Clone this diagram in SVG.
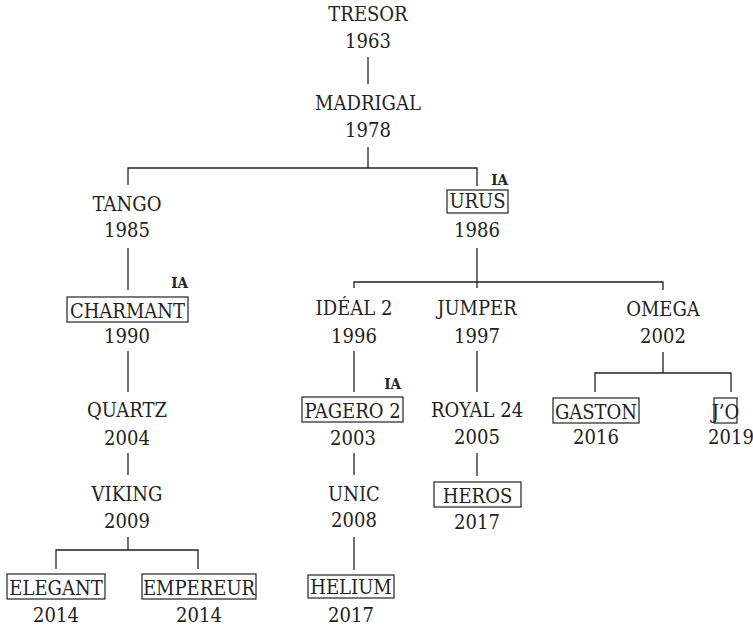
<svg xmlns="http://www.w3.org/2000/svg" width="753" height="626" viewBox="0 0 753 626">
<style>
text{font-family:"DejaVu Serif Condensed","DejaVu Serif",serif;font-size:20px;fill:#222;text-anchor:middle}
.ia{font-size:15px;font-weight:bold;text-anchor:end}
.box{fill:none;stroke:#222;stroke-width:1.2}
.c path{fill:none;stroke:#222;stroke-width:1.3}
</style>
<rect width="753" height="626" fill="#fff"/>
<g class="c" id="connectors">
<path d="M368 57V84"/>
<path d="M368 147V168M128 185V168H477V186"/>
<path d="M128 248V290"/>
<path d="M477 248V288M354 288V282H663V290"/>
<path d="M128 351V392"/>
<path d="M354 351V392"/>
<path d="M477 351V392"/>
<path d="M663 352V373M595 392V373H731V392"/>
<path d="M128 453V475"/>
<path d="M354 453V475"/>
<path d="M477 453V476"/>
<path d="M128 537V550M56 569V550H198V569"/>
<path d="M354 537V570"/>
</g>
<g id="n-tresor"><text x="368" y="21">TRESOR</text><text x="368" y="48">1963</text></g>
<g id="n-madrigal"><text x="368" y="110">MADRIGAL</text><text x="368" y="137">1978</text></g>
<g id="n-tango"><text x="127" y="211">TANGO</text><text x="127" y="237">1985</text></g>
<g id="n-urus"><text class="ia" x="508" y="185">IA</text><rect class="box" x="447" y="190" width="61" height="23"/><text x="477.5" y="208">URUS</text><text x="477" y="237">1986</text></g>
<g id="n-charmant"><text class="ia" x="188" y="288">IA</text><rect class="box" x="67" y="297" width="121" height="25"/><text x="127.5" y="318">CHARMANT</text><text x="127" y="343">1990</text></g>
<g id="n-ideal2"><text x="354" y="315">IDÉAL 2</text><text x="354" y="343">1996</text></g>
<g id="n-jumper"><text x="477" y="315">JUMPER</text><text x="477" y="343">1997</text></g>
<g id="n-omega"><text x="663" y="316">OMEGA</text><text x="663" y="343">2002</text></g>
<g id="n-quartz"><text x="127" y="417">QUARTZ</text><text x="127" y="445">2004</text></g>
<g id="n-pagero2"><text class="ia" x="401" y="389">IA</text><rect class="box" x="302" y="397" width="101" height="25"/><text x="352.5" y="418">PAGERO 2</text><text x="353" y="445">2003</text></g>
<g id="n-royal24"><text x="477" y="417">ROYAL 24</text><text x="477" y="444">2005</text></g>
<g id="n-gaston"><rect class="box" x="553" y="398" width="86" height="25"/><text x="596" y="419">GASTON</text><text x="596" y="444">2016</text></g>
<g id="n-jo"><rect class="box" x="714" y="398" width="23" height="25"/><text x="725.5" y="419">J’O</text><text x="731" y="444">2019</text></g>
<g id="n-viking"><text x="127" y="501">VIKING</text><text x="127" y="528">2009</text></g>
<g id="n-unic"><text x="354" y="501">UNIC</text><text x="354" y="527">2008</text></g>
<g id="n-heros"><rect class="box" x="434" y="482" width="87" height="25"/><text x="477.5" y="503">HEROS</text><text x="477" y="529">2017</text></g>
<g id="n-elegant"><rect class="box" x="7" y="574" width="98" height="25"/><text x="56" y="595">ELEGANT</text><text x="56" y="622">2014</text></g>
<g id="n-empereur"><rect class="box" x="142" y="574" width="114" height="25"/><text x="199" y="595">EMPEREUR</text><text x="199" y="622">2014</text></g>
<g id="n-helium"><rect class="box" x="308" y="575" width="86" height="23"/><text x="351" y="594">HELIUM</text><text x="351" y="622">2017</text></g>
</svg>
